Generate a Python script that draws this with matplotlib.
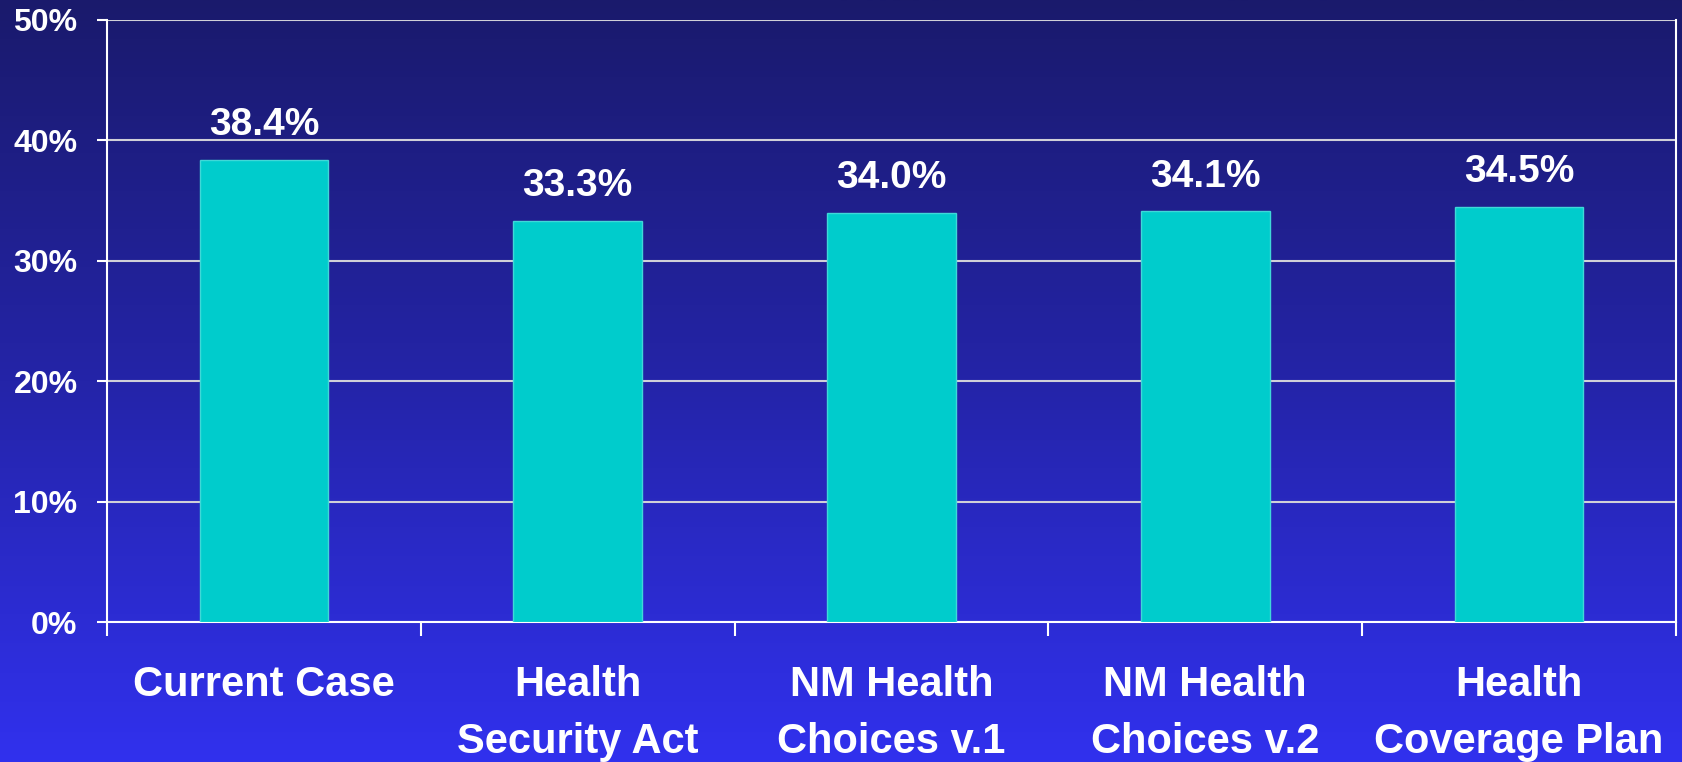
import numpy as np
import matplotlib.pyplot as plt
from matplotlib.colors import LinearSegmentedColormap

categories = ['Current Case', 'Health\nSecurity Act', 'NM Health\nChoices v.1',
              'NM Health\nChoices v.2', 'Health\nCoverage Plan']
values = [38.4, 33.3, 34.0, 34.1, 34.5]
yticks = [0, 10, 20, 30, 40, 50]

plt.rcParams['font.family'] = ['Liberation Sans', 'DejaVu Sans']
plt.rcParams['font.weight'] = 'bold'

fig = plt.figure(figsize=(16.82, 7.62), dpi=100)

# background gradient, dark navy at the top to bright blue at the bottom
bg = fig.add_axes([0, 0, 1, 1], zorder=0)
cmap = LinearSegmentedColormap.from_list('bg', ['#1a1a6c', '#2424a8', '#3131ee'])
grad = np.linspace(0, 1, 256).reshape(-1, 1)
bg.imshow(grad, aspect='auto', cmap=cmap, extent=[0, 1, 0, 1])
bg.axis('off')

ax = fig.add_axes([0.0636, 0.1837, 0.9328, 0.7901], zorder=1)
ax.patch.set_alpha(0)

x = np.arange(len(categories))
bars = ax.bar(x, values, width=0.41, color='#00cccc', edgecolor='#3fd8d8',
              linewidth=1, zorder=3)

for xi, v in zip(x, values):
    ax.annotate('%.1f%%' % v, (xi, v), xytext=(0, 12), textcoords='offset points',
                ha='center', va='bottom', color='white', fontsize=28,
                fontweight='bold')

ax.set_xlim(-0.5, len(categories) - 0.5)
ax.set_ylim(0, 50)
ax.set_yticks(yticks)
ax.set_yticklabels(['%d%%' % t for t in yticks])
ax.yaxis.grid(True, color='#d0d0d8', linewidth=1.5, zorder=1)
ax.set_axisbelow(True)

# boundary ticks on the x axis, labels at the centres
ax.set_xticks(np.arange(-0.5, len(categories), 1.0))
ax.set_xticklabels([])
ax.set_xticks(x, minor=True)
ax.set_xticklabels(categories, minor=True)
ax.tick_params(axis='x', which='major', length=10, width=1.5, color='white',
               direction='out')
ax.tick_params(axis='x', which='minor', length=0, pad=31, labelsize=30,
               labelcolor='white')
ax.tick_params(axis='y', length=7.2, width=1.5, color='white', pad=14,
               labelsize=23, labelcolor='white')
for lbl in ax.get_xticklabels(minor=True):
    lbl.set_fontweight('bold')
    lbl.set_va('top')
    lbl.set_ha('center')
    lbl.set_multialignment('center')
    lbl.set_linespacing(1.55)
for lbl in ax.get_yticklabels():
    lbl.set_fontweight('bold')

for side in ['left', 'bottom', 'right']:
    ax.spines[side].set_color('white')
    ax.spines[side].set_linewidth(1.5)
ax.spines['top'].set_visible(False)

fig.savefig('out.png', dpi=100)
